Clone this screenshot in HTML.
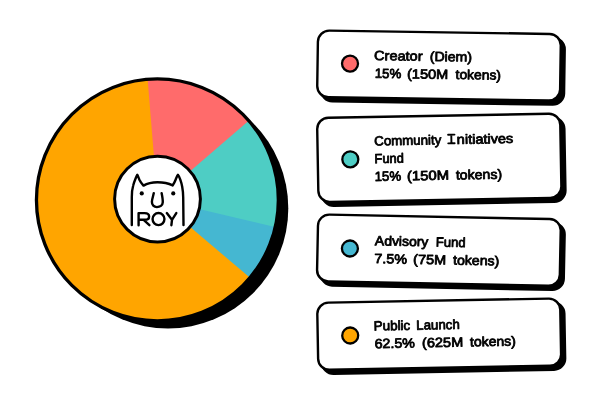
<!DOCTYPE html>
<html><head><meta charset="utf-8"><title>Token allocation</title>
<style>
html,body{margin:0;padding:0;background:#fff;}
body{width:600px;height:400px;overflow:hidden;font-family:"Liberation Sans",sans-serif;}
svg{display:block}
.lg text{font-family:"Liberation Sans",sans-serif;font-size:13.3px;font-weight:400;fill:#000;stroke:#000;stroke-width:0.8px;stroke-linejoin:round;}
</style></head>
<body>
<svg width="600" height="400" viewBox="0 0 600 400">
<defs><filter id="idf" x="0" y="0" width="600" height="400" filterUnits="userSpaceOnUse" color-interpolation-filters="sRGB"><feOffset dx="0" dy="0"/></filter></defs>
<rect width="600" height="400" fill="#fff"/>
<g>
<circle cx="168.0" cy="208.2" r="120.3" fill="#000"/>
<clipPath id="pc"><circle cx="157.4" cy="199.9" r="121.6"/></clipPath>
<g clip-path="url(#pc)">
<rect x="0" y="0" width="320" height="400" fill="#FFA500"/>
<path d="M157.50,199.30 L548.32,284.51 L529.32,346.77 L500.49,405.12 L462.57,458.02Z" fill="#45B7D1"/>
<path d="M157.50,199.30 L456.16,-66.79 L494.73,-15.82 L524.69,40.65 L545.28,101.18 L555.96,164.21 L556.46,228.13 L546.77,291.32Z" fill="#4ECDC4"/>
<path d="M157.50,199.30 L124.72,-199.35 L187.49,-199.57 L249.52,-189.97 L309.28,-170.78 L365.31,-142.48 L416.22,-105.77 L460.75,-61.54Z" fill="#FF6B6B"/>
</g>
<circle cx="157.4" cy="199.9" r="120.94999999999999" fill="none" stroke="#000" stroke-width="3.3"/>
<circle cx="157.5" cy="199.1" r="42.9" fill="#fff" stroke="#000" stroke-width="3"/>
<path d="M131.8,225 L131.8,197.2 C131.8,192 132.3,188.5 133.2,185.5 C134,182.5 134.9,180.2 135.6,178.5 C136.2,177 136.8,175.4 137.3,174.8 C137.8,175.4 138.7,178 139.4,179.7 C140.3,181.6 141.3,183.2 143.5,185.6 C147.5,183.2 153,182.2 157.5,182.2 C162.5,182.2 168.5,183.3 172.7,185.4 C173.8,183.6 174.9,181.5 175.6,179.7 C176.4,177.8 177.3,175.4 177.9,174.8 C178.6,175.6 179.6,177.6 180.3,179.7 C181.1,182 181.8,184.5 182.2,186.7 C182.8,190 183.2,193.5 183.2,197.2 L183.5,225" fill="none" stroke="#000" stroke-width="2.4" stroke-linecap="round" stroke-linejoin="round"/>
<circle cx="141.75" cy="193.4" r="2.1" fill="#000"/>
<circle cx="173.25" cy="193.4" r="2.1" fill="#000"/>
<path d="M153.8,193.1 C153.2,196 152,199 151.9,201.8 C151.8,205 154,207.1 156.9,207.1 C160,207.1 162.6,205.4 162.75,202.4 C162.9,199.5 162.2,196 161.6,193.1" fill="none" stroke="#000" stroke-width="2.4" stroke-linecap="round" stroke-linejoin="round"/>
<path d="M138.6,225.2 L138.6,213.1 L144.6,213.1 C147.3,213.1 149.1,214.4 149.1,216.4 C149.1,218.6 147.3,219.8 144.6,219.8 L138.9,219.8 M143.6,219.9 L149.4,225.2" fill="none" stroke="#000" stroke-width="2.4" stroke-linecap="round" stroke-linejoin="round"/>
<ellipse cx="158.5" cy="219.1" rx="5.95" ry="6.05" fill="none" stroke="#000" stroke-width="2.4" stroke-linecap="round" stroke-linejoin="round"/>
<path d="M166.8,213.1 L172,219.8 M176.3,213.1 L172,219.8 L171.4,225.2" fill="none" stroke="#000" stroke-width="2.4" stroke-linecap="round" stroke-linejoin="round"/>
</g>
<g class="lg" filter="url(#idf)">
<g transform="translate(439.0,65.6) rotate(0.85)">
<rect x="-118.65" y="-30.5" width="245.3" height="69.0" rx="12.5" fill="#000"/>
<rect x="-121.45" y="-33.3" width="242.9" height="66.6" rx="11.3" fill="#fff" stroke="#000" stroke-width="2.4"/>
<circle cx="-89" cy="-0.7" r="8.0" fill="#FF6B6B" stroke="#000" stroke-width="2.3"/>
<text x="-64.96" y="-4.55" textLength="48.35" lengthAdjust="spacingAndGlyphs">Creator</text>
<text x="-9.37" y="-4.55" textLength="42.15" lengthAdjust="spacingAndGlyphs">(Diem)</text>
<text x="-64.12" y="13.20" textLength="26.46" lengthAdjust="spacingAndGlyphs">15%</text>
<text x="-31.89" y="13.20" textLength="41.34" lengthAdjust="spacingAndGlyphs">(150M</text>
<text x="16.81" y="13.20" textLength="45.29" lengthAdjust="spacingAndGlyphs">tokens)</text>
</g>
<g transform="translate(439.3,157.8) rotate(-1.03)">
<rect x="-118.75" y="-39.25" width="245.5" height="86.5" rx="12.5" fill="#000"/>
<rect x="-121.55" y="-42.05" width="243.1" height="84.1" rx="11.3" fill="#fff" stroke="#000" stroke-width="2.4"/>
<circle cx="-89" cy="-0.1" r="8.0" fill="#4ECDC4" stroke="#000" stroke-width="2.3"/>
<text x="-64.75" y="-13.50" textLength="67.05" lengthAdjust="spacingAndGlyphs">Community</text>
<text x="17.78" y="-13.50" textLength="56.53" lengthAdjust="spacingAndGlyphs">nitiatives</text>
<text x="-64.86" y="4.25" textLength="29.40" lengthAdjust="spacingAndGlyphs">Fund</text>
<text x="-65.01" y="22.00" textLength="26.47" lengthAdjust="spacingAndGlyphs">15%</text>
<text x="-32.70" y="22.00" textLength="42.25" lengthAdjust="spacingAndGlyphs">(150M</text>
<text x="16.28" y="22.00" textLength="46.15" lengthAdjust="spacingAndGlyphs">tokens)</text>
<path d="M12.40,-14.30 V-22.90 M9.20,-22.90 H15.60 M9.20,-14.30 H15.60" fill="none" stroke="#000" stroke-width="1.9" stroke-linecap="round"/>
</g>
<g transform="translate(438.9,250.2) rotate(1.15)">
<rect x="-118.6" y="-30.6" width="245.2" height="69.2" rx="12.5" fill="#000"/>
<rect x="-121.39999999999999" y="-33.4" width="242.79999999999998" height="66.8" rx="11.3" fill="#fff" stroke="#000" stroke-width="2.4"/>
<circle cx="-89" cy="0.1" r="8.0" fill="#45B7D1" stroke="#000" stroke-width="2.3"/>
<text x="-64.14" y="-3.65" textLength="53.41" lengthAdjust="spacingAndGlyphs">Advisory</text>
<text x="-3.29" y="-3.65" textLength="29.81" lengthAdjust="spacingAndGlyphs">Fund</text>
<text x="-64.29" y="14.10" textLength="32.68" lengthAdjust="spacingAndGlyphs">7.5%</text>
<text x="-25.51" y="14.10" textLength="32.94" lengthAdjust="spacingAndGlyphs">(75M</text>
<text x="14.47" y="14.10" textLength="46.10" lengthAdjust="spacingAndGlyphs">tokens)</text>
</g>
<g transform="translate(439.2,334.2) rotate(-1.04)">
<rect x="-118.7" y="-30.799999999999997" width="245.4" height="69.6" rx="12.5" fill="#000"/>
<rect x="-121.5" y="-33.599999999999994" width="243.0" height="67.19999999999999" rx="11.3" fill="#fff" stroke="#000" stroke-width="2.4"/>
<circle cx="-89" cy="-0.3" r="8.0" fill="#FFA500" stroke="#000" stroke-width="2.3"/>
<text x="-65.33" y="-4.95" textLength="36.52" lengthAdjust="spacingAndGlyphs">Public</text>
<text x="-22.77" y="-4.95" textLength="43.49" lengthAdjust="spacingAndGlyphs">Launch</text>
<text x="-64.82" y="12.80" textLength="40.39" lengthAdjust="spacingAndGlyphs">62.5%</text>
<text x="-17.32" y="12.80" textLength="41.12" lengthAdjust="spacingAndGlyphs">(625M</text>
<text x="30.63" y="12.80" textLength="45.94" lengthAdjust="spacingAndGlyphs">tokens)</text>
</g>
</g>
</svg>
</body></html>
